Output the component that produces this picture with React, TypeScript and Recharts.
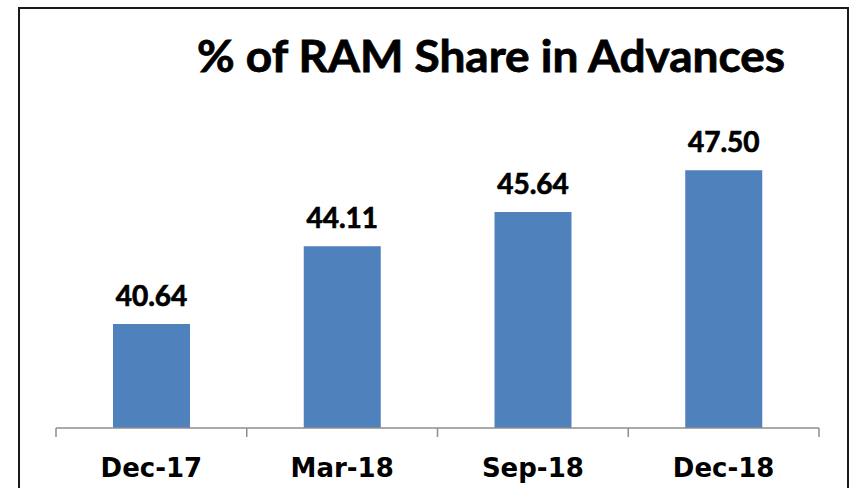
import { BarChart, Bar, XAxis, YAxis, LabelList } from "recharts";

const CATEGORIES = ["Dec-17", "Mar-18", "Sep-18", "Dec-18"];
const RAM_SHARE = [40.64, 44.11, 45.64, 47.5];
const TITLE = "% of RAM Share in Advances";
const Y_DOMAIN = [36, 48];

const data = CATEGORIES.map((name, i) => ({ name, value: RAM_SHARE[i] }));

// tick lines sit on the band edges, not on the band centres
function CategoryTick({ x, y, payload, index }: any) {
  const half = payload.offset || 0;
  const isLast = index === CATEGORIES.length - 1;
  return (
    <g>
      <line x1={x - half} x2={x - half} y1={y} y2={y + 9} stroke="#8e8e8e" strokeWidth={1.5} />
      {isLast && (
        <line x1={x + half} x2={x + half} y1={y} y2={y + 9} stroke="#8e8e8e" strokeWidth={1.5} />
      )}
      <text
        x={x}
        y={y}
        dy={49}
        textAnchor="middle"
        fontFamily="DejaVu Sans"
        fontWeight="bold"
        fontSize={26}
        fill="#000"
      >
        {payload.value}
      </text>
    </g>
  );
}

export default function App() {
  return (
    <div
      style={{
        position: "absolute",
        left: 0,
        top: 0,
        width: 852,
        height: 488,
        overflow: "hidden",
        background: "#fff",
      }}
    >
      <div
        style={{
          position: "absolute",
          left: 18,
          top: 7,
          width: 827,
          height: 600,
          border: "2px solid #1a1a1a",
        }}
      />
      <svg
        width={852}
        height={100}
        style={{ position: "absolute", left: 0, top: 0 }}
      >
        <text
          x={491}
          y={72}
          textAnchor="middle"
          fontFamily="Lato"
          fontWeight="bold"
          fontSize={44}
          textLength={588}
          lengthAdjust="spacingAndGlyphs"
          fill="#000"
          stroke="#000"
          strokeWidth={0.8}
        >
          {TITLE}
        </text>
      </svg>
      <div style={{ position: "absolute", left: 0, top: 0 }}>
        <BarChart
          width={852}
          height={488}
          data={data}
          margin={{ top: 159, right: 33, left: 56, bottom: 0 }}
        >
          <XAxis
            dataKey="name"
            height={60}
            tickSize={0}
            tickMargin={0}
            tickLine={false}
            axisLine={{ stroke: "#8e8e8e", strokeWidth: 1.5 }}
            tick={<CategoryTick />}
            interval={0}
          />
          <YAxis hide domain={Y_DOMAIN} allowDataOverflow />
          <Bar
            dataKey="value"
            fill="#4F81BD"
            barSize={77}
            isAnimationActive={false}
          >
            <LabelList
              dataKey="value"
              position="top"
              offset={18}
              formatter={(v: any) => Number(v).toFixed(2)}
              style={{
                fontFamily: "Lato",
                fontWeight: "bold",
                fontSize: 28,
                fill: "#000",
                stroke: "#000",
                strokeWidth: 0.7,
              }}
            />
          </Bar>
        </BarChart>
      </div>
    </div>
  );
}
